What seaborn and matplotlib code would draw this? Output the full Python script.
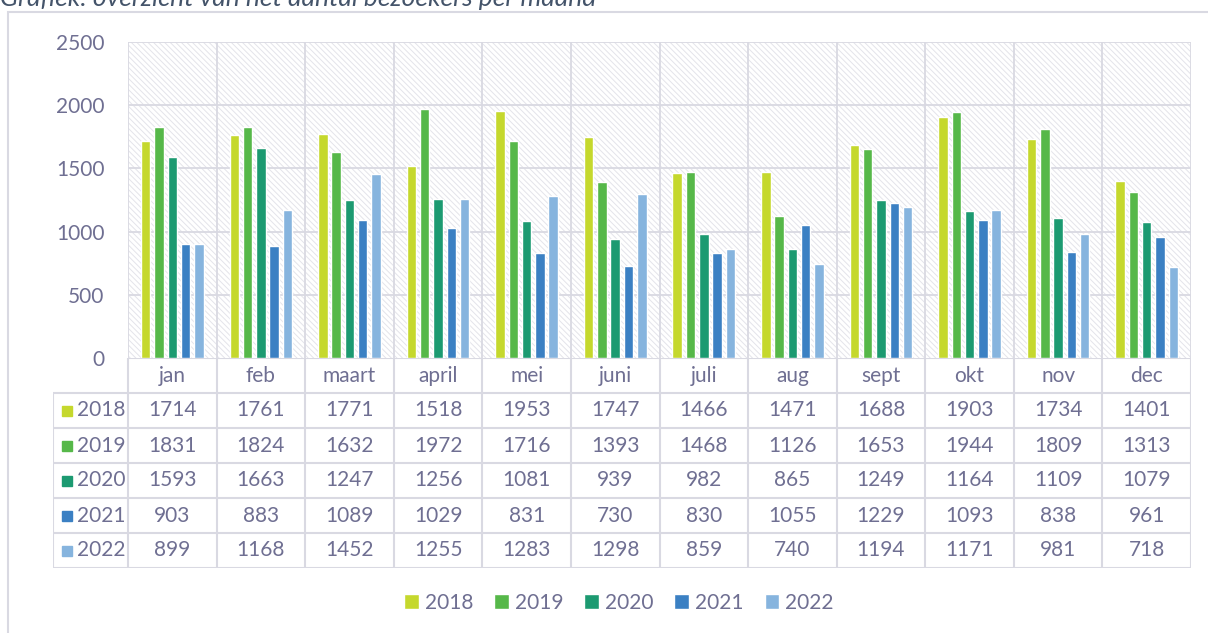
import matplotlib.pyplot as plt
from matplotlib.patches import Rectangle, Patch
import seaborn as sns
import pandas as pd

# data
months = ['jan', 'feb', 'maart', 'april', 'mei', 'juni', 'juli', 'aug', 'sept', 'okt', 'nov', 'dec']
years = ['2018', '2019', '2020', '2021', '2022']
v2018 = [1714, 1761, 1771, 1518, 1953, 1747, 1466, 1471, 1688, 1903, 1734, 1401]
v2019 = [1831, 1824, 1632, 1972, 1716, 1393, 1468, 1126, 1653, 1944, 1809, 1313]
v2020 = [1593, 1663, 1247, 1256, 1081, 939, 982, 865, 1249, 1164, 1109, 1079]
v2021 = [903, 883, 1089, 1029, 831, 730, 830, 1055, 1229, 1093, 838, 961]
v2022 = [899, 1168, 1452, 1255, 1283, 1298, 859, 740, 1194, 1171, 981, 718]
colors = ['#C5D82D', '#56B849', '#1C9A71', '#3B80C3', '#86B4DE']

series = [v2018, v2019, v2020, v2021, v2022]
df = pd.DataFrame({
    'maand': months * len(years),
    'jaar': [y for y in years for _ in months],
    'bezoekers': [v for s in series for v in s],
})

sns.set_style('white')
plt.rcParams['font.family'] = ['Lato', 'DejaVu Sans']
plt.rcParams['hatch.linewidth'] = 0.7
txt = '#6F6F92'
grid = '#D9D9E2'
fs = 15

W, H = 1208, 633
fig = plt.figure(figsize=(W / 100, H / 100), dpi=100)

# outer frame + caption (cut off at the top, as in the source)
fig.patches.append(Rectangle((8 / W, -0.1), 1.2, 1.1 - 12 / H, transform=fig.transFigure,
                             fill=False, edgecolor=grid, lw=1.5))
fig.text(0.0, 1 - 6 / H, 'Grafiek: overzicht van het aantal bezoekers per maand',
         style='italic', fontsize=19, color='#44546A', va='baseline', ha='left')

# bar area
x0, x1, ytop, ybot = 128, 1191, 42, 358
ax = fig.add_axes([x0 / W, 1 - ybot / H, (x1 - x0) / W, (ybot - ytop) / H])
ax.add_patch(Rectangle((0, 0), 1, 1, transform=ax.transAxes, facecolor='white',
                       edgecolor='#E4E4EA', hatch='\\\\\\\\\\\\', lw=0, zorder=0))
sns.barplot(data=df, x='maand', y='bezoekers', hue='jaar', order=months, hue_order=years,
            palette=colors, saturation=1, width=0.75, gap=0.29, legend=False, ax=ax, zorder=3)
ax.set_ylim(0, 2500)
ax.set_xlim(-0.5, 11.5)
ax.set_yticks(range(0, 2501, 500))
ax.set_xticks([])
ax.set_xlabel('')
ax.set_ylabel('')
ax.tick_params(axis='y', length=0, pad=17, labelsize=fs, labelcolor=txt)
for s in ax.spines.values():
    s.set_visible(False)
for yv in range(500, 2501, 500):
    ax.axhline(yv, color=grid, lw=1.3, zorder=1)
for k in range(13):
    ax.axvline(k - 0.5, color=grid, lw=1.3, zorder=1)

# data table
cw = (x1 - x0) / 12
tl = 53
tab = fig.add_axes([tl / W, 1 - 568 / H, (x1 - tl) / W, (568 - ybot) / H])
xmin = -0.5 - (x0 - tl) / cw
tab.set_xlim(xmin, 11.5)
tab.set_ylim(6, 0)
tab.axis('off')
tab.hlines(0, -0.5, 11.5, color=grid, lw=1.5)
tab.hlines(range(1, 7), xmin, 11.5, color=grid, lw=1.5)
tab.vlines([k - 0.5 for k in range(13)], 0, 6, color=grid, lw=1.5)
tab.vlines(xmin, 1, 6, color=grid, lw=1.5)
for i, m in enumerate(months):
    tab.text(i, 0.5, m, ha='center', va='center', fontsize=fs, color=txt)
for r, (yr, vals, c) in enumerate(zip(years, series, colors)):
    yy = r + 1.5
    tab.plot(xmin + 14 / cw, yy, marker='s', markersize=7.5, color=c, lw=0)
    tab.text(xmin + 24 / cw, yy, yr, ha='left', va='center', fontsize=fs, color=txt)
    for i, v in enumerate(vals):
        tab.text(i, yy, str(v), ha='center', va='center', fontsize=fs, color=txt)

# legend
handles = [Patch(facecolor=c, label=y) for y, c in zip(years, colors)]
fig.legend(handles=handles, loc='center', bbox_to_anchor=(619 / W, 1 - 603 / H), ncol=5,
           frameon=False, fontsize=fs, labelcolor=txt, handlelength=0.7, handleheight=0.7,
           handletextpad=0.3, columnspacing=1.0)

fig.savefig('out.png', dpi=100)
